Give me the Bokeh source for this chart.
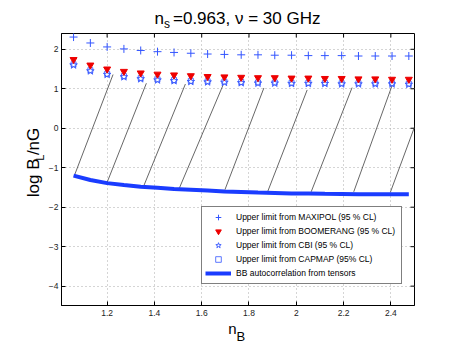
import math
from bokeh.plotting import figure
from bokeh.layouts import column, row
from bokeh.models import Range1d, FixedTicker, Legend, LegendItem
from bokeh.core.properties import value
from bokeh.embed import file_html
from bokeh.resources import INLINE

# ---------------- data ----------------
n_B = [1.058, 1.129, 1.200, 1.271, 1.342, 1.413, 1.483, 1.554, 1.625, 1.696, 1.767,
       1.838, 1.909, 1.980, 2.051, 2.121, 2.192, 2.263, 2.334, 2.405, 2.476]
maxipol = [2.31, 2.16, 2.06, 2.01, 1.97, 1.94, 1.92, 1.90, 1.88, 1.87, 1.86,
           1.86, 1.85, 1.85, 1.84, 1.84, 1.84, 1.83, 1.83, 1.83, 1.83]
boomerang = [1.74, 1.60, 1.50, 1.44, 1.40, 1.37, 1.35, 1.33, 1.31, 1.30, 1.29,
             1.28, 1.28, 1.27, 1.27, 1.26, 1.26, 1.25, 1.25, 1.24, 1.24]
cbi = [1.60, 1.45, 1.36, 1.30, 1.25, 1.22, 1.20, 1.18, 1.17, 1.16, 1.15,
       1.14, 1.14, 1.13, 1.13, 1.13, 1.12, 1.12, 1.12, 1.12, 1.11]
capmap = [1.62, 1.47, 1.38, 1.32, 1.27, 1.24, 1.22, 1.20, 1.19, 1.18, 1.17,
          1.16, 1.16, 1.15, 1.15, 1.15, 1.14, 1.14, 1.14, 1.14, 1.13]
bb_tensors = [-1.20, -1.31, -1.39, -1.44, -1.48, -1.51, -1.54, -1.56, -1.58, -1.60, -1.615,
              -1.63, -1.64, -1.65, -1.655, -1.66, -1.665, -1.67, -1.67, -1.67, -1.67]

hatch_x0 = [1.062, 1.200, 1.355, 1.506, 1.698, 1.880, 2.063, 2.243, 2.398]
hatch_y0 = [-1.19, -1.37, -1.46, -1.51, -1.56, -1.59, -1.61, -1.61, -1.62]
hatch_x1 = [1.225, 1.366, 1.531, 1.690, 1.863, 2.046, 2.236, 2.405, 2.560]
hatch_y1 = [1.36, 1.14, 1.12, 1.09, 1.02, 0.97, 1.03, 1.08, 1.00]

x_ticks = [1.2, 1.4, 1.6, 1.8, 2.0, 2.2, 2.4]
x_tick_labels = ["1.2", "1.4", "1.6", "1.8", "2", "2.2", "2.4"]
y_ticks = [-4, -3, -2, -1, 0, 1, 2]
y_tick_labels = ["\u22124", "\u22123", "\u22122", "\u22121", "0", "1", "2"]

legend_labels = ["Upper limit from MAXIPOL (95 % CL)",
                 "Upper limit from BOOMERANG (95 % CL)",
                 "Upper limit from CBI (95 % CL)",
                 "Upper limit from CAPMAP (95% CL)",
                 "BB autocorrelation from tensors"]

title_main = "=0.963, \u03bd = 30 GHz"
title_var, title_sub = "n", "s"
ylabel_parts = ("log B", "L", "/nG")
xlabel_parts = ("n", "B")

X_RANGE = (1.007, 2.5)
Y_RANGE = (-4.49, 2.4)
FONT = "Liberation Sans"

# ---------------- layout (page px) ----------------
PAGE_W, PAGE_H = 458, 343
TITLE_H = 31
YLAB_W = 45
XLAB_H = 23
MAIN_H = PAGE_H - TITLE_H - XLAB_H
MAIN_W = PAGE_W - YLAB_W
FRAME_L, FRAME_R, FRAME_T, FRAME_B = 59, 414, 33, 305
TICK_LEN = 4


def text_fig(width, height):
    f = figure(width=width, height=height, output_backend="svg", toolbar_location=None,
               x_range=Range1d(0, width), y_range=Range1d(0, height),
               x_axis_type=None, y_axis_type=None,
               min_border_left=0, min_border_right=0, min_border_top=0, min_border_bottom=0)
    f.outline_line_color = None
    f.background_fill_color = "white"
    f.border_fill_color = "white"
    return f


def put_text(f, ox, oy, h, px, py, txt, size, angle=0.0):
    f.text(x=[px - ox], y=[h - (py - oy)], text=[txt], angle=angle,
           text_font=value(FONT), text_font_size=value(size), text_color="black",
           text_align="left", text_baseline="alphabetic")


# ---------------- main plot ----------------
p = figure(width=MAIN_W, height=MAIN_H, output_backend="svg", toolbar_location=None,
           x_range=Range1d(*X_RANGE), y_range=Range1d(*Y_RANGE),
           min_border_left=FRAME_L - YLAB_W, min_border_right=PAGE_W - FRAME_R,
           min_border_top=FRAME_T - TITLE_H, min_border_bottom=TITLE_H + MAIN_H - FRAME_B)
p.background_fill_color = "white"
p.border_fill_color = "white"
p.outline_line_color = "black"
p.outline_line_width = 1

p.xaxis.ticker = FixedTicker(ticks=x_ticks)
p.yaxis.ticker = FixedTicker(ticks=y_ticks)
p.xaxis.major_label_overrides = {t: s for t, s in zip(x_ticks, x_tick_labels)}
p.yaxis.major_label_overrides = {t: s for t, s in zip(y_ticks, y_tick_labels)}
for ax in (p.xaxis, p.yaxis):
    ax.major_tick_in = TICK_LEN
    ax.major_tick_out = 0
    ax.minor_tick_in = 0
    ax.minor_tick_out = 0
    ax.axis_line_color = "black"
    ax.major_tick_line_color = "black"
    ax.major_label_text_font = FONT
    ax.major_label_text_font_size = "8.5px"
    ax.major_label_text_color = "#222222"
p.xaxis.major_label_standoff = 4
p.yaxis.major_label_standoff = 3

p.grid.grid_line_color = "#aaaaaa"
p.grid.grid_line_dash = "1 3"
p.grid.grid_line_width = 1

# inward ticks on the top and right edges of the box (derived from the tick lists)
dx_tick = TICK_LEN / (FRAME_R - FRAME_L) * (X_RANGE[1] - X_RANGE[0])
dy_tick = TICK_LEN / (FRAME_B - FRAME_T) * (Y_RANGE[1] - Y_RANGE[0])
p.segment(x0=x_ticks, y0=[Y_RANGE[1]] * len(x_ticks), x1=x_ticks,
          y1=[Y_RANGE[1] - dy_tick] * len(x_ticks), line_color="black", line_width=1)
p.segment(x0=[X_RANGE[1]] * len(y_ticks), y0=y_ticks, x1=[X_RANGE[1] - dx_tick] * len(y_ticks),
          y1=y_ticks, line_color="black", line_width=1)

# hatch lines
p.segment(x0=hatch_x0, y0=hatch_y0, x1=hatch_x1, y1=hatch_y1, line_color="#404040", line_width=0.8)

r_bb = p.line(n_B, bb_tensors, line_color="#1a3cff", line_width=4)
r_cap = p.scatter(n_B, capmap, marker="square", size=5, fill_color=None,
                  line_color="#3355ff", line_width=0.8)
r_cbi = p.scatter(n_B, cbi, marker="star", size=8, fill_color=None,
                  line_color="#3355ff", line_width=0.9)
r_boo = p.scatter(n_B, boomerang, marker="inverted_triangle", size=7,
                  fill_color="#ee0000", line_color="#ee0000")
r_max = p.scatter(n_B, maxipol, marker="cross", size=8, line_color="#3355ff", line_width=1)

legend = Legend(items=[LegendItem(label=legend_labels[0], renderers=[r_max]),
                       LegendItem(label=legend_labels[1], renderers=[r_boo]),
                       LegendItem(label=legend_labels[2], renderers=[r_cbi]),
                       LegendItem(label=legend_labels[3], renderers=[r_cap]),
                       LegendItem(label=legend_labels[4], renderers=[r_bb])],
                location=(140, 21), orientation="vertical",
                label_text_font=FONT, label_text_font_size="8.5px", label_text_color="black",
                glyph_width=26, glyph_height=14, label_height=14, label_width=162,
                label_standoff=5, padding=3, spacing=0, margin=0,
                border_line_color="black", border_line_width=1,
                background_fill_color="white", background_fill_alpha=1.0)
p.add_layout(legend)

# ---------------- title ----------------
t = text_fig(PAGE_W, TITLE_H)
put_text(t, 0, 0, TITLE_H, 154, 17.5, title_var, "17px")
put_text(t, 0, 0, TITLE_H, 163.5, 23.5, title_sub, "12px")
put_text(t, 0, 0, TITLE_H, 172.5, 17.5, title_main, "17px")

# ---------------- y label ----------------
yl = text_fig(YLAB_W, MAIN_H)
put_text(yl, 0, TITLE_H, MAIN_H, 33.3, 205, ylabel_parts[0], "17px", angle=math.pi / 2)
put_text(yl, 0, TITLE_H, MAIN_H, 39.5, 166.3, ylabel_parts[1], "11px", angle=math.pi / 2)
put_text(yl, 0, TITLE_H, MAIN_H, 33.3, 160.2, ylabel_parts[2], "17px", angle=math.pi / 2)

# ---------------- x label ----------------
xl = text_fig(PAGE_W, XLAB_H)
oy = TITLE_H + MAIN_H
put_text(xl, 0, oy, XLAB_H, 227.7, 328.3, xlabel_parts[0], "15px")
put_text(xl, 0, oy, XLAB_H, 236, 335.5, xlabel_parts[1], "13px")

layout = column(t, row(yl, p, spacing=0), xl, spacing=0)
open("out.html", "w").write(file_html(layout, INLINE))
